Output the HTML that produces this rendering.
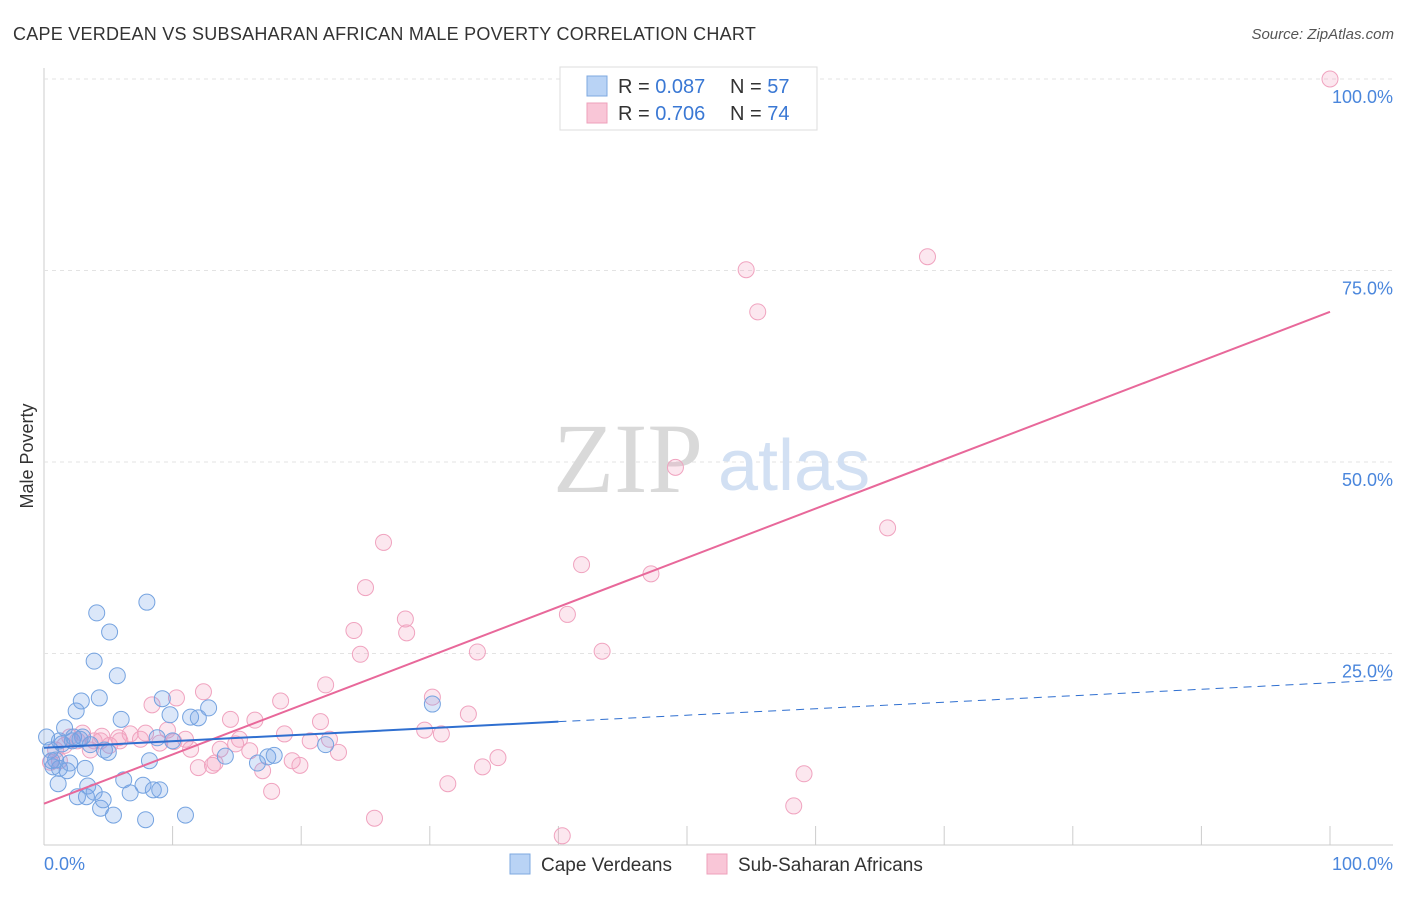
<!DOCTYPE html>
<html><head><meta charset="utf-8"><style>
body{margin:0;background:#fff;font-family:"Liberation Sans",sans-serif;}
</style></head><body>
<svg id="chart" width="1406" height="892" xmlns="http://www.w3.org/2000/svg" font-family="Liberation Sans, sans-serif">
<text x="13" y="40" font-size="18" fill="#333" letter-spacing="0.25">CAPE VERDEAN VS SUBSAHARAN AFRICAN MALE POVERTY CORRELATION CHART</text>
<text x="1394" y="39" font-size="15" fill="#555" text-anchor="end" font-style="italic">Source: ZipAtlas.com</text>
<text transform="translate(33,456) rotate(-90)" font-size="18" fill="#333" text-anchor="middle">Male Poverty</text>
<g id="grid"></g>
<g>
<text x="553" y="492" style="font-family:'Liberation Serif',serif;font-size:100px" fill="#d9d9d9">ZIP</text>
<text x="718" y="490" style="font-size:72px" fill="#d2e0f3">atlas</text>
</g>
<g id="pts"></g>
<g id="trends"></g>
<g>
<rect x="560" y="67" width="257" height="63" fill="#fff" stroke="#ddd"/>
<rect x="587" y="76" width="20" height="20" fill="#b9d3f5" stroke="#7ea8e0"/>
<rect x="587" y="103" width="20" height="20" fill="#f9c6d7" stroke="#eea0bb"/>
<text x="618" y="93" font-size="20" fill="#333">R = <tspan fill="#3a78d4">0.087</tspan></text>
<text x="730" y="93" font-size="20" fill="#333">N = <tspan fill="#3a78d4">57</tspan></text>
<text x="618" y="120" font-size="20" fill="#333">R = <tspan fill="#3a78d4">0.706</tspan></text>
<text x="730" y="120" font-size="20" fill="#333">N = <tspan fill="#3a78d4">74</tspan></text>
</g>
<g>
<rect x="510" y="854" width="20" height="20" fill="#b9d3f5" stroke="#7ea8e0"/>
<text x="541" y="871" font-size="19" fill="#333">Cape Verdeans</text>
<rect x="707" y="854" width="20" height="20" fill="#f9c6d7" stroke="#eea0bb"/>
<text x="738" y="871" font-size="19" fill="#333">Sub-Saharan Africans</text>
</g>
</svg>
<script>
const yTicks=[25,50,75,100];
const yTickLabels=["25.0%","50.0%","75.0%","100.0%"];
const xTickLabels=["0.0%","100.0%"];
const blueX=[0.2,0.5,0.7,0.9,1.1,1.2,1.4,1.6,1.8,2.0,2.2,2.3,2.5,2.6,2.9,3.0,3.2,3.3,3.4,3.6,3.9,4.1,4.3,4.4,4.6,4.7,5.0,5.1,5.4,5.7,6.0,6.2,6.7,7.7,8.0,8.2,8.5,8.8,9.0,9.2,9.8,10.0,11.0,11.4,12.0,12.8,14.1,16.6,17.4,17.9,21.9,30.2,7.9,3.9,0.6,1.2,2.8];
const blueY=[14.1,12.4,10.2,11.1,8.0,10.0,13.2,15.3,9.7,10.7,13.6,14.1,17.5,6.3,18.8,14.1,10.0,6.3,7.7,13.1,6.9,30.3,19.2,4.8,5.9,12.4,12.1,27.8,3.9,22.1,16.4,8.5,6.8,7.8,31.7,11.0,7.2,14.0,7.2,19.1,17.0,13.6,3.9,16.7,16.6,17.9,11.6,10.7,11.5,11.7,13.1,18.4,3.3,24.0,11.0,13.6,13.8];
const pinkX=[100,68.7,54.6,55.5,49.1,65.6,26.4,41.8,47.2,25.0,40.7,28.1,28.2,24.1,43.4,33.7,24.6,21.9,30.2,12.4,10.3,18.4,8.4,33.0,21.5,14.5,16.4,29.6,30.9,18.7,22.2,20.7,15.2,10.1,6.7,5.8,7.9,4.5,3.0,2.6,1.6,0.9,0.5,14.9,13.3,17.0,19.3,19.9,22.9,35.3,34.1,12.0,13.1,17.7,31.4,59.1,58.3,25.7,40.3,9.0,11.4,3.9,5.1,1.2,7.5,9.6,5.9,3.6,16.0,2.0,4.4,11.0,13.7];
const pinkY=[100,76.8,75.1,69.6,49.3,41.4,39.5,36.6,35.4,33.6,30.1,29.5,27.7,28.0,25.3,25.2,24.9,20.9,19.3,20.0,19.2,18.8,18.3,17.1,16.1,16.4,16.3,15.0,14.5,14.5,13.8,13.6,13.8,13.5,14.5,14.0,14.6,14.2,14.6,13.6,13.0,12.4,10.8,13.2,10.7,9.7,11.0,10.4,12.1,11.4,10.2,10.1,10.4,7.0,8.0,9.3,5.1,3.5,1.2,13.3,12.5,13.6,13.0,11.0,13.8,15.0,13.6,12.4,12.3,14.1,13.6,13.8,12.5];
const blueTrend=[[0,12.7],[40,16.1],[105,21.6]];
const pinkTrend=[[0,5.4],[100,69.6]];
const xs=v=>44+v*12.86, ys=v=>845-v*7.66;
const NS="http://www.w3.org/2000/svg";
function mk(tag,at,parent){const e=document.createElementNS(NS,tag);for(const k in at)e.setAttribute(k,at[k]);parent.appendChild(e);return e;}
const grid=document.getElementById('grid');
let l=mk('line',{x1:44,y1:68,x2:44,y2:845,stroke:"#ccc"},grid);


l=mk('line',{x1:44,y1:845,x2:1393,y2:845,stroke:"#ccc"},grid);


yTicks.forEach((t,i)=>{
 const g=mk('line',{x1:44,x2:1393,y1:ys(t),y2:ys(t),stroke:"#e3e3e3","stroke-dasharray":"4,4"},grid);
 
 
 const tx=mk('text',{x:1393,y:ys(t)+24,"font-size":18,fill:"#4a86dc","text-anchor":"end"},grid);tx.textContent=yTickLabels[i];
 
 
});
for(let i=1;i<=10;i++){const t=mk('line',{x1:xs(i*10),x2:xs(i*10),y1:826,y2:845,stroke:"#ccc"},grid);
 
 }
let t0=mk('text',{x:44,y:870,"font-size":18,fill:"#4a86dc"},grid);t0.textContent=xTickLabels[0];


let t1=mk('text',{x:1393,y:870,"font-size":18,fill:"#4a86dc","text-anchor":"end"},grid);t1.textContent=xTickLabels[1];


const pts=document.getElementById('pts');
pinkX.forEach((x,i)=>{const c=mk('circle',{cx:xs(x),cy:ys(pinkY[i]),r:8,fill:"rgba(244,160,190,0.25)",stroke:"#f0a3bf","stroke-width":1},pts);
 
 });
blueX.forEach((x,i)=>{const c=mk('circle',{cx:xs(x),cy:ys(blueY[i]),r:8,fill:"rgba(110,160,230,0.25)",stroke:"#75a3e0","stroke-width":1},pts);
 
 });
const tr=document.getElementById('trends');
let a=mk('line',{x1:xs(pinkTrend[0][0]),y1:ys(pinkTrend[0][1]),x2:xs(pinkTrend[1][0]),y2:ys(pinkTrend[1][1]),stroke:"#e8689a","stroke-width":2},tr);


a=mk('line',{x1:xs(blueTrend[0][0]),y1:ys(blueTrend[0][1]),x2:xs(blueTrend[1][0]),y2:ys(blueTrend[1][1]),stroke:"#2f6fd0","stroke-width":2},tr);


a=mk('line',{x1:xs(blueTrend[1][0]),y1:ys(blueTrend[1][1]),x2:xs(blueTrend[2][0]),y2:ys(blueTrend[2][1]),stroke:"#2f6fd0","stroke-width":1,"stroke-dasharray":"8,6"},tr);


</script>
</body></html>
